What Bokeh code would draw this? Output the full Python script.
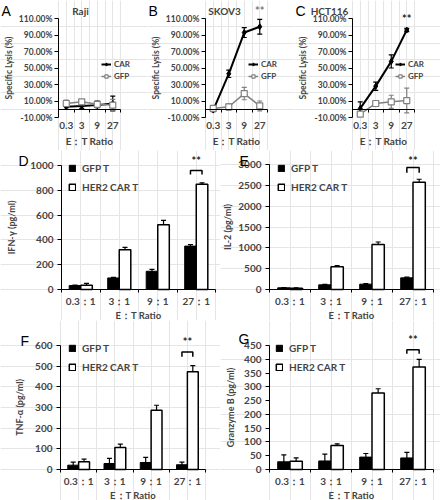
from bokeh.plotting import figure
from bokeh.layouts import column, row
from bokeh.models import (ColumnDataSource, Range1d, FixedTicker, LinearAxis,
                          PrintfTickFormatter, Whisker, TeeHead, Label, Legend,
                          LegendItem)
from bokeh.embed import file_html
from bokeh.resources import INLINE

FONT = "Lato"
LETTER_FONT = "Liberation Sans"

# ---------------- data ----------------
ratios_line = ["0.3", "3", "9", "27"]
ratios_bar = ["0.3：1", "3：1", "9：1", "27：1"]

raji_car = [3, 4, 5, 7]
raji_car_err = [3, 3, 5, 9]
raji_gfp = [7, 9, 6, 5]
raji_gfp_err = [4, 2, 3, 7]

skov3_car = [-1, 43, 93, 100]
skov3_car_err = [2, 4.5, 6, 9]
skov3_gfp = [1, 3, 19, 4]
skov3_gfp_err = [2, 4, 7.5, 6]

hct116_car = [1, 28, 58, 96]
hct116_car_err = [8, 5, 8, 2]
hct116_gfp = [-6, 7, 9, 10.5]
hct116_gfp_err = [2, 2, 8, 15]

ifng_gfp = [32, 93, 147, 350]
ifng_gfp_err = [4, 5, 15, 12]
ifng_car = [35, 320, 523, 848]
ifng_car_err = [15, 20, 35, 12]

il2_gfp = [40, 112, 128, 280]
il2_gfp_err = [5, 10, 15, 15]
il2_car = [32, 544, 1080, 2576]
il2_car_err = [8, 30, 60, 70]

tnfa_gfp = [21, 29, 34, 23]
tnfa_gfp_err = [15, 25, 25, 13]
tnfa_car = [37, 106, 287, 473]
tnfa_car_err = [13, 17, 24, 30]

gzmb_gfp = [28, 31, 45, 42]
gzmb_gfp_err = [25, 25, 13, 20]
gzmb_car = [30, 87, 278, 372]
gzmb_car_err = [12, 6, 15, 28]

# significance brackets: [bracket top, leg end, star level]
ifng_sig = [960, 928, 1040]
il2_sig = [2930, 2800, 3100]
tnfa_sig = [569, 545, 618]
gzmb_sig = [435, 420, 470]

lysis_ticks = [-10, 10, 30, 50, 70, 90, 110]
GRAY = "#808080"


def make_fig(w, h, L, R, T, B, xmin, xmax, ymin, ymax):
    """Figure whose frame fills the whole canvas; the plotting box
    (L..R, T..B in pixels) maps to xmin..xmax, ymin..ymax."""
    kx = (R - L) / (xmax - xmin)
    ky = (B - T) / (ymax - ymin)
    p = figure(width=w, height=h, title=None,
               x_range=Range1d(xmin - L / kx, xmax + (w - R) / kx),
               y_range=Range1d(ymin - (h - B) / ky, ymax + T / ky),
               x_axis_location=None, y_axis_location=None,
               min_border=0, output_backend="svg", toolbar_location=None)
    p.outline_line_color = None
    p.background_fill_color = "white"
    p.border_fill_color = "white"
    return p


def style_axis(ax, tick_size, label_size):
    ax.major_label_text_font = FONT
    ax.major_label_text_font_style = "bold"
    ax.major_label_text_font_size = tick_size
    ax.axis_label_text_font = FONT
    ax.axis_label_text_font_style = "bold"
    ax.axis_label_text_font_size = label_size
    ax.axis_line_color = "black"
    ax.major_tick_line_color = "black"
    ax.minor_tick_line_color = None
    ax.major_tick_in = 0
    ax.major_tick_out = 4


def add_letter(p, letter, lx, ly, h):
    p.add_layout(Label(x=lx, y=h - ly, x_units="screen", y_units="screen",
                       text=letter, text_font=LETTER_FONT, text_font_size="14px",
                       text_baseline="top", text_align="left", text_color="black"))


def category_axes(p, labels, label_loc, line_loc, tick_size, title_size, label_std, title_std):
    n = len(labels)
    pos = list(range(1, n + 1))
    bounds = (0.5, n + 0.5)
    # axis line with tick marks at the category boundaries
    za = LinearAxis(fixed_location=line_loc, bounds=bounds,
                    ticker=FixedTicker(ticks=[i + 0.5 for i in range(n + 1)]))
    style_axis(za, "9px", "9px")
    za.major_label_text_alpha = 0
    za.major_tick_out = 3
    p.add_layout(za, "below")
    # category labels
    la = LinearAxis(fixed_location=label_loc, bounds=bounds, ticker=FixedTicker(ticks=pos),
                    major_label_overrides={k: v for k, v in zip(pos, labels)},
                    axis_label="E：T Ratio")
    style_axis(la, tick_size, title_size)
    la.axis_line_color = None
    la.major_tick_line_color = None
    la.major_tick_out = 0
    la.major_label_standoff = label_std
    la.axis_label_standoff = title_std
    p.add_layout(la, "below")
    return pos


def line_panel(letter, title, title_x, w, car, car_err, gfp, gfp_err, star_y, star_color):
    h, L, R, T, B = 150, 58, 120, 18, 117
    n = len(ratios_line)
    p = make_fig(w, h, L, R, T, B, 0.5, n + 0.5, -10, 110)

    ya = LinearAxis(fixed_location=0.5, bounds=(-10, 110),
                    ticker=FixedTicker(ticks=lysis_ticks),
                    formatter=PrintfTickFormatter(format="%.2f%%"),
                    axis_label="Specific Lysis (%)")
    style_axis(ya, "8.5px", "8.5px")
    ya.major_label_standoff = 2
    ya.axis_label_standoff = 2
    p.add_layout(ya, "left")

    pos = category_axes(p, ratios_line, -10, 0, "10px", "10px", 4, 3)

    src = ColumnDataSource(dict(
        x=pos, car=car, gfp=gfp,
        car_lo=[v - e for v, e in zip(car, car_err)],
        car_hi=[v + e for v, e in zip(car, car_err)],
        gfp_lo=[v - e for v, e in zip(gfp, gfp_err)],
        gfp_hi=[v + e for v, e in zip(gfp, gfp_err)],
    ))
    cl = p.line("x", "car", source=src, line_color="black", line_width=2)
    cm = p.scatter("x", "car", source=src, marker="diamond", size=6,
                   fill_color="black", line_color="black")
    gl = p.line("x", "gfp", source=src, line_color=GRAY, line_width=1.5)
    gm = p.scatter("x", "gfp", source=src, marker="square", size=6,
                   fill_color="white", line_color=GRAY, line_width=1.2)
    for key, col in (("car", "black"), ("gfp", GRAY)):
        p.add_layout(Whisker(base="x", lower=key + "_lo", upper=key + "_hi", source=src,
                             line_color=col, line_width=1.2,
                             upper_head=TeeHead(size=5, line_color=col, line_width=1.2),
                             lower_head=TeeHead(size=5, line_color=col, line_width=1.2)))

    leg = Legend(items=[LegendItem(label="CAR", renderers=[cl, cm]),
                        LegendItem(label="GFP", renderers=[gl, gm])],
                 location=(101, h - 81), background_fill_alpha=0, border_line_color=None,
                 label_text_font=FONT, label_text_font_size="8px",
                 label_text_font_style="bold", glyph_width=10, glyph_height=8,
                 label_height=8, label_standoff=3, spacing=2, padding=0, margin=0)
    p.add_layout(leg)

    p.add_layout(Label(x=title_x, y=h - 10, x_units="screen", y_units="screen", text=title,
                       text_font=FONT, text_font_size="10px", text_font_style="bold",
                       text_align="center", text_baseline="middle"))
    if star_y is not None:
        p.add_layout(Label(x=pos[-1], y=star_y, text="**", text_font=FONT,
                           text_font_size="11px", text_font_style="bold",
                           text_color=star_color, text_align="center",
                           text_baseline="middle"))
    add_letter(p, letter, 1, 2, h)
    return p


def bar_panel(letter, ylabel, gfp, gfp_err, car, car_err, ymax, ystep, sig,
              w, h, L, R, T, B, lx, ly, ylabel_std, leg_x, leg_top):
    n = len(ratios_bar)
    p = make_fig(w, h, L, R, T, B, 0.5, n + 0.5, 0, ymax)

    ya = LinearAxis(fixed_location=0.5, bounds=(0, ymax),
                    ticker=FixedTicker(ticks=list(range(0, ymax + 1, ystep))),
                    axis_label=ylabel)
    style_axis(ya, "10px", "9px")
    ya.major_label_standoff = 4
    ya.axis_label_standoff = ylabel_std
    p.add_layout(ya, "left")

    pos = category_axes(p, ratios_bar, 0, 0, "10px", "9.5px", 5, 0)

    off, bw = 0.15, 0.3
    src = ColumnDataSource(dict(
        xg=[x - off for x in pos], xc=[x + off for x in pos], gfp=gfp, car=car,
        gfp_lo=[v - e for v, e in zip(gfp, gfp_err)],
        gfp_hi=[v + e for v, e in zip(gfp, gfp_err)],
        car_lo=[v - e for v, e in zip(car, car_err)],
        car_hi=[v + e for v, e in zip(car, car_err)],
    ))
    g = p.vbar(x="xg", top="gfp", width=bw, source=src,
               fill_color="black", line_color="black", line_width=1)
    c = p.vbar(x="xc", top="car", width=bw, source=src,
               fill_color="white", line_color="black", line_width=1.5)
    for key, xk in (("gfp", "xg"), ("car", "xc")):
        p.add_layout(Whisker(base=xk, lower=key + "_lo", upper=key + "_hi", source=src,
                             line_color="black", line_width=1.2,
                             upper_head=TeeHead(size=5, line_color="black", line_width=1.2),
                             lower_head=TeeHead(size=5, line_color="black", line_width=1.2)))

    leg = Legend(items=[LegendItem(label="GFP T", renderers=[g]),
                        LegendItem(label="HER2 CAR T", renderers=[c])],
                 location=(leg_x, h - leg_top - 25), background_fill_alpha=0,
                 border_line_color=None, label_text_font=FONT,
                 label_text_font_size="10px", label_text_font_style="bold",
                 glyph_width=8, glyph_height=8, label_height=9, label_standoff=6,
                 spacing=7, padding=0, margin=0)
    p.add_layout(leg)

    x0, x1 = pos[-1] - off, pos[-1] + off
    p.line(x=[x0, x0, x1, x1], y=[sig[1], sig[0], sig[0], sig[1]],
           line_color="black", line_width=1.5)
    p.add_layout(Label(x=pos[-1], y=sig[2], text="**", text_font=FONT,
                       text_font_size="11px", text_font_style="bold", text_color="#222222",
                       text_align="center", text_baseline="middle"))
    add_letter(p, letter, lx, ly, h)
    return p


pa = line_panel("A", "Raji", 80, 147, raji_car, raji_car_err, raji_gfp, raji_gfp_err,
                None, "#666666")
pb = line_panel("B", "SKOV3", 77, 147, skov3_car, skov3_car_err, skov3_gfp, skov3_gfp_err,
                120, "#777777")
pc = line_panel("C", "HCT116", 35, 146, hct116_car, hct116_car_err, hct116_gfp,
                hct116_gfp_err, 110, "#222222")

pd = bar_panel("D", "IFN-γ (pg/ml)", ifng_gfp, ifng_gfp_err, ifng_car, ifng_car_err,
               1000, 200, ifng_sig, 220, 170, 61, 215, 15, 139, 18, 2.5, 10, 68, 18)
pe = bar_panel("E", "IL-2 (pg/ml)", il2_gfp, il2_gfp_err, il2_car, il2_car_err,
               3000, 500, il2_sig, 220, 170, 49, 213, 14, 139, 19, 2.5, 2, 57, 18)
pf = bar_panel("F", "TNF-α (pg/ml)", tnfa_gfp, tnfa_gfp_err, tnfa_car, tnfa_car_err,
               600, 100, tnfa_sig, 220, 180, 60, 205, 25, 149, 20, 12.5, 7, 68, 28)
pg = bar_panel("G", "Granzyme B (pg/ml)", gzmb_gfp, gzmb_gfp_err, gzmb_car, gzmb_car_err,
               450, 50, gzmb_sig, 220, 180, 49, 213, 25, 149, 18, 10.5, 5, 55, 28)

layout = column(row(pa, pb, pc), row(pd, pe), row(pf, pg))
open("out.html", "w").write(file_html(layout, INLINE, title="Specific lysis and cytokines"))
